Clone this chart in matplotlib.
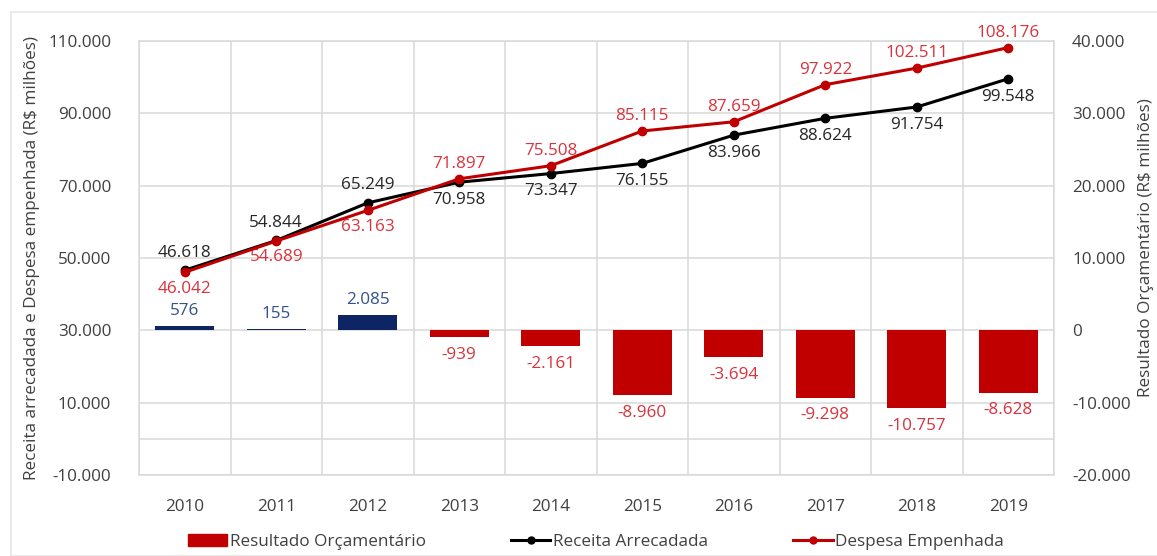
import matplotlib
matplotlib.use("Agg")
import matplotlib.pyplot as plt
from matplotlib.lines import Line2D
from matplotlib.patches import Patch, Rectangle
import numpy as np

years = ["2010", "2011", "2012", "2013", "2014", "2015", "2016", "2017", "2018", "2019"]
receita = [46618, 54844, 65249, 70958, 73347, 76155, 83966, 88624, 91754, 99548]
despesa = [46042, 54689, 63163, 71897, 75508, 85115, 87659, 97922, 102511, 108176]
resultado = [576, 155, 2085, -939, -2161, -8960, -3694, -9298, -10757, -8628]
left_ticks = [-10000, 10000, 30000, 50000, 70000, 90000, 110000]
right_ticks = [-20000, -10000, 0, 10000, 20000, 30000, 40000]

# label placement: True = above point
receita_above = [True, True, True, False, False, False, False, False, False, False]
despesa_above = [False, False, False, True, True, True, True, True, True, True]

plt.rcParams['font.family'] = ['Open Sans', 'DejaVu Sans']

def fmt(v):
    s = f"{abs(v):,}".replace(",", ".")
    return ("-" if v < 0 else "") + s

GRID = "#D9D9D9"
TXT = "#404040"
RED = "#C00000"
RED_LBL = "#D9333D"
NAVY = "#0D2563"
NAVY_LBL = "#34508F"
FS = 12.3

fig = plt.figure(figsize=(11.57, 5.56), dpi=100)
fig.patches.append(Rectangle((11/1157, 0), 1.2, (556 - 12) / 556,
                             transform=fig.transFigure, fill=False,
                             edgecolor="#E6E6E6", linewidth=1.2))

ax2 = fig.add_axes([139/1157, 1 - 475/556, (1054 - 139)/1157, (475 - 41)/556])
ax1 = ax2.twinx()
# ax1 (lines, left scale) on top
ax1.set_zorder(ax2.get_zorder() + 1)
ax1.patch.set_visible(False)

x = np.arange(len(years))

# bars on ax2 (right scale)
bar_colors = [NAVY if v >= 0 else RED for v in resultado]
ax2.bar(x, resultado, width=0.65, color=bar_colors, zorder=3)
ax2.set_ylim(-20000, 40000)
ax2.set_yticks(right_ticks)
ax2.yaxis.tick_right()
ax2.yaxis.set_label_position("right")
ax2.set_yticklabels([fmt(v) for v in right_ticks])
for xi, v in zip(x, resultado):
    if v >= 0:
        ax2.annotate(fmt(v), (xi, v), xytext=(0, 5), textcoords="offset points",
                     ha="center", va="bottom", color=NAVY_LBL, fontsize=FS, zorder=5)
    else:
        ax2.annotate(fmt(v), (xi, v), xytext=(0, -7), textcoords="offset points",
                     ha="center", va="top", color=RED_LBL, fontsize=FS, zorder=5)

ax2.set_xlim(-0.5, len(years) - 0.5)
ax2.set_xticks(x)
ax2.set_xticklabels(years)
ax2.set_xticks(np.arange(len(years) + 1) - 0.5, minor=True)
ax2.grid(True, which="major", axis="y", color=GRID, linewidth=1.1, zorder=0)
ax2.grid(True, which="minor", axis="x", color=GRID, linewidth=1.1, zorder=0)
ax2.grid(False, which="major", axis="x")
ax2.set_axisbelow(True)
ax2.tick_params(axis="both", which="both", length=0, colors=TXT, labelsize=FS)
ax2.tick_params(axis="x", pad=17)
ax2.tick_params(axis="y", pad=13)
for s in ax2.spines.values():
    s.set_color(GRID)
    s.set_linewidth(1.1)

# lines on ax1 (left scale)
ax1.yaxis.tick_left()
ax1.yaxis.set_label_position("left")
ax1.set_ylim(-10000, 110000)
ax1.set_yticks(left_ticks)
ax1.set_yticklabels([fmt(v) for v in left_ticks])
ax1.axhline(0, color=GRID, linewidth=1.1, zorder=0)
ax1.plot(x, receita, color="black", linewidth=2.2, marker="o", markersize=6, zorder=4)
ax1.plot(x, despesa, color=RED, linewidth=2.2, marker="o", markersize=6, zorder=5)
for xi, v, up in zip(x, receita, receita_above):
    ax1.annotate(fmt(v), (xi, v), xytext=(0, 7 if up else -7), textcoords="offset points",
                 ha="center", va="bottom" if up else "top", color="#262626", fontsize=FS)
for xi, v, up in zip(x, despesa, despesa_above):
    ax1.annotate(fmt(v), (xi, v), xytext=(0, 5 if up else -6), textcoords="offset points",
                 ha="center", va="bottom" if up else "top", color=RED_LBL, fontsize=FS)
ax1.tick_params(axis="both", which="both", length=0, colors=TXT, labelsize=FS)
ax1.tick_params(axis="y", pad=20)
for s in ax1.spines.values():
    s.set_visible(False)

ax1.set_ylabel("Receita arrecadada e Despesa empenhada (R$ milhões)", fontsize=FS,
               color=TXT, labelpad=6)
fig.text(1146/1157, 0.555, "Resultado Orçamentário (R$ milhões)", rotation=90,
         ha="center", va="center", fontsize=FS, color=TXT)

handles = [
    Patch(facecolor=RED, edgecolor=RED),
    Line2D([0], [0], color="black", linewidth=2.2, marker="o", markersize=5),
    Line2D([0], [0], color=RED, linewidth=2.2, marker="o", markersize=5),
]
labels = ["Resultado Orçamentário", "Receita Arrecadada", "Despesa Empenhada"]
fig.legend(handles, labels, loc="center", bbox_to_anchor=(0.515, 1 - 542/556),
           ncol=3, frameon=False, fontsize=FS, handlelength=2.3, handletextpad=0.15,
           columnspacing=5.0, labelcolor=TXT)

fig.savefig("out.png", dpi=100)
